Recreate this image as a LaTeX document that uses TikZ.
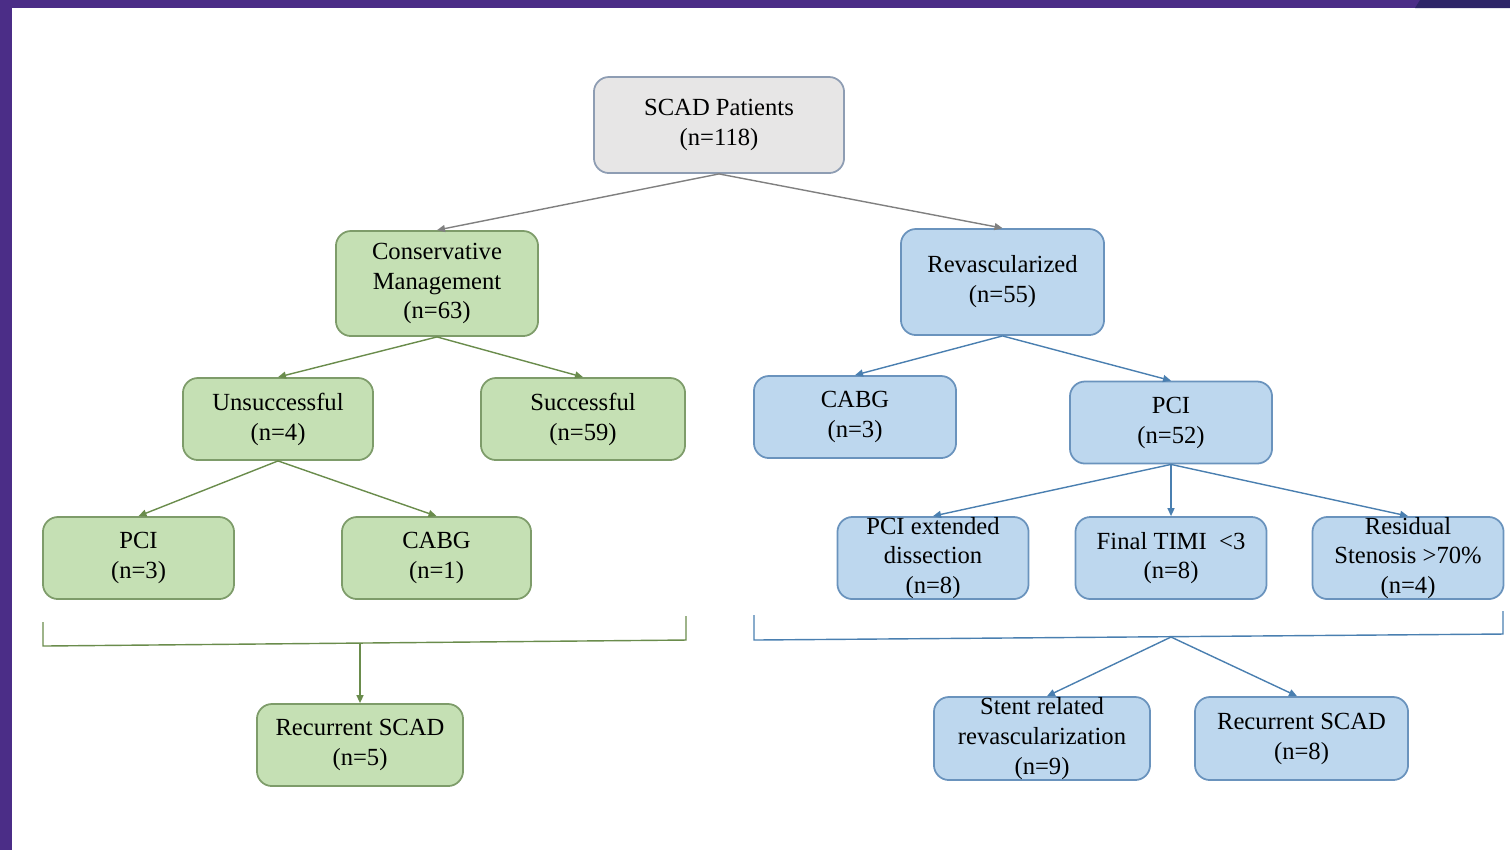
\documentclass[tikz,border=0pt]{standalone}
\usepackage{fontspec}
\setmainfont{Liberation Serif}
\usepackage{xcolor}
\usetikzlibrary{arrows.meta, positioning}

\definecolor{frame}{HTML}{4B2D87}
\definecolor{framedark}{HTML}{2E2568}
\definecolor{grayfill}{HTML}{E7E6E6}
\definecolor{grayline}{HTML}{8E9DB3}
\definecolor{greenfill}{HTML}{C5E0B4}
\definecolor{greenline}{HTML}{7E9C6A}
\definecolor{bluefill}{HTML}{BDD7EE}
\definecolor{blueline}{HTML}{6A93BD}
\definecolor{grayarrow}{HTML}{808080}
\definecolor{greenarrow}{HTML}{6A8C4C}
\definecolor{bluearrow}{HTML}{4A7FB0}

\tikzset{
  box/.style={draw, rounded corners=0.15cm, align=center, inner sep=0pt,
    line width=0.5pt, font=\fontsize{7}{8.5}\selectfont,
    minimum width=1.91cm, minimum height=0.82cm},
  graybox/.style={box, fill=grayfill, draw=grayline},
  greenbox/.style={box, fill=greenfill, draw=greenline},
  bluebox/.style={box, fill=bluefill, draw=blueline},
  link/.style={-{Triangle[length=0.08cm, width=0.07cm]}, line width=0.4pt},
}

\begin{document}
\begin{tikzpicture}[x=0.01cm, y=-0.01cm]
\useasboundingbox (0,0) rectangle (1510,850);
% Frame
\fill[frame] (0,0) rectangle (1510,8);
\fill[frame] (0,0) rectangle (12,850);
\fill[framedark] (1415,8) -- (1420,0) -- (1510,0) -- (1510,8) -- cycle;

% Top
\node[graybox, minimum width=2.5cm, minimum height=0.96cm] (scad) at (719,125) {SCAD Patients\\(n=118)};

% Conservative branch
\node[greenbox, minimum width=2.02cm, minimum height=1.05cm] (cons) at (437,283.5) {Conservative\\Management\\(n=63)};
\node[greenbox, minimum width=1.9cm] (unsucc) at (278,419) {Unsuccessful\\(n=4)};
\node[greenbox, minimum width=2.04cm] (succ) at (583,419) {Successful\\(n=59)};
\node[greenbox] (lpci) at (138.5,558) {PCI\\(n=3)};
\node[greenbox, minimum width=1.89cm] (lcabg) at (436.5,558) {CABG\\(n=1)};
\node[greenbox, minimum width=2.06cm] (lrec) at (360,745) {Recurrent SCAD\\(n=5)};

% Revascularized branch
\node[bluebox, minimum width=2.03cm, minimum height=1.06cm] (revasc) at (1002.5,282) {Revascularized\\(n=55)};
\node[bluebox, minimum width=2.02cm] (rcabg) at (855,417) {CABG\\(n=3)};
\node[bluebox, minimum width=2.02cm] (rpci) at (1171,422.5) {PCI\\(n=52)};
\node[bluebox] (ext) at (933,558) {PCI extended\\dissection\\(n=8)};
\node[bluebox] (timi) at (1171,558) {Final TIMI~ <3\\(n=8)};
\node[bluebox] (resid) at (1408,558) {Residual\\Stenosis >70\%\\(n=4)};
\node[bluebox, minimum width=2.16cm, minimum height=0.83cm] (stent) at (1042,738.5) {Stent related\\revascularization\\(n=9)};
\node[bluebox, minimum width=2.13cm, minimum height=0.83cm] (rrec) at (1301.5,738.5) {Recurrent SCAD\\(n=8)};

% Arrows from top
\draw[link, grayarrow] (scad.south) -- (cons.north);
\draw[link, grayarrow] (scad.south) -- (revasc.north);

% Left arrows
\draw[link, greenarrow] (cons.south) -- (unsucc.north);
\draw[link, greenarrow] (cons.south) -- (succ.north);
\draw[link, greenarrow] (unsucc.south) -- (lpci.north);
\draw[link, greenarrow] (unsucc.south) -- (lcabg.north);

% Right arrows
\draw[link, bluearrow] (revasc.south) -- (rcabg.north);
\draw[link, bluearrow] (revasc.south) -- (rpci.north);
\draw[link, bluearrow] (rpci.south) -- (ext.north);
\draw[link, bluearrow] (rpci.south) -- (timi.north);
\draw[link, bluearrow] (rpci.south) -- (resid.north);

% Brackets
\coordinate (lb) at (360,643);
\coordinate (rb) at (1171,637);
\draw[greenarrow, line width=0.4pt] (43,622) -- (43,646) -- (686,640) -- (686,616);
\draw[link, greenarrow] (lb) -- (lrec.north);
\draw[bluearrow, line width=0.4pt] (754,615) -- (754,640) -- (1503,634) -- (1503,611);
\draw[link, bluearrow] (rb) -- ([xshift=0.05cm]stent.north);
\draw[link, bluearrow] (rb) -- ([xshift=-0.045cm]rrec.north);
\end{tikzpicture}
\end{document}
